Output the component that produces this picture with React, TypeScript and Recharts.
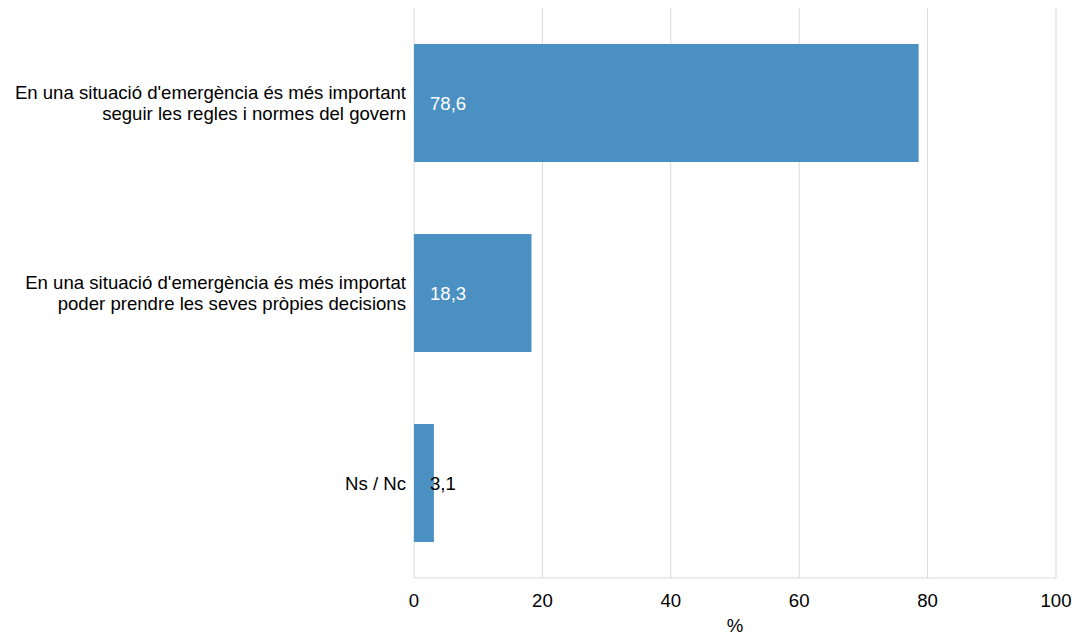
import React from 'react';
import {
  BarChart,
  Bar,
  XAxis,
  YAxis,
  CartesianGrid,
  LabelList,
} from 'recharts';

const categories = [
  "En una situació d'emergència és més important\nseguir les regles i normes del govern",
  "En una situació d'emergència és més importat\npoder prendre les seves pròpies decisions",
  'Ns / Nc',
];
const values = [78.6, 18.3, 3.1];
const xTicks = [0, 20, 40, 60, 80, 100];

const BAR_COLOR = '#4a90c2';
const FONT = '"Liberation Sans", Arial, sans-serif';
const FS = 18.6;

const data = categories.map((c, i) => ({ name: c, value: values[i] }));

const CategoryTick = ({ x, y, payload }: any) => {
  const lines = String(payload.value).split('\n');
  const lh = 21;
  const start = y - ((lines.length - 1) * lh) / 2;
  return (
    <text x={x} y={start} textAnchor="end" fill="#000" fontSize={FS} fontFamily={FONT}>
      {lines.map((l, i) => (
        <tspan key={i} x={x} y={start + i * lh} dy="0.35em">
          {l}
        </tspan>
      ))}
    </text>
  );
};

const ValueLabel = ({ x, y, width, height, value }: any) => {
  // small bars get a dark label sitting over the edge
  const inside = width > 40;
  return (
    <text
      x={x + 16}
      y={y + height / 2}
      dy="0.35em"
      fill={inside ? '#fff' : '#000'}
      fontSize={FS}
      fontFamily={FONT}
    >
      {String(value).replace('.', ',')}
    </text>
  );
};

export default function App() {
  return (
    <div style={{ width: 1074, height: 637 }}>
      <style>{'body{margin:0}'}</style>
      <BarChart
        width={1074}
        height={637}
        data={data}
        layout="vertical"
        margin={{ top: 8, right: 18, left: 0, bottom: 0 }}
        barCategoryGap="19%"
        style={{ fontFamily: FONT }}
      >
        <CartesianGrid horizontal={false} stroke="#d9d9d9" />
        <XAxis
          type="number"
          domain={[0, 100]}
          ticks={xTicks}
          interval={0}
          tickLine={false}
          axisLine={{ stroke: '#d9d9d9' }}
          tickMargin={10}
          height={59}
          tick={{ fill: '#000', fontSize: FS, fontFamily: FONT }}
          label={{ value: '%', position: 'insideBottom', offset: 5, fill: '#000', fontSize: FS, fontFamily: FONT }}
        />
        <YAxis
          type="category"
          dataKey="name"
          width={414}
          axisLine={false}
          tickLine={false}
          tick={<CategoryTick />}
        />
        <Bar dataKey="value" fill={BAR_COLOR} isAnimationActive={false}>
          <LabelList dataKey="value" content={<ValueLabel />} />
        </Bar>
      </BarChart>
    </div>
  );
}
